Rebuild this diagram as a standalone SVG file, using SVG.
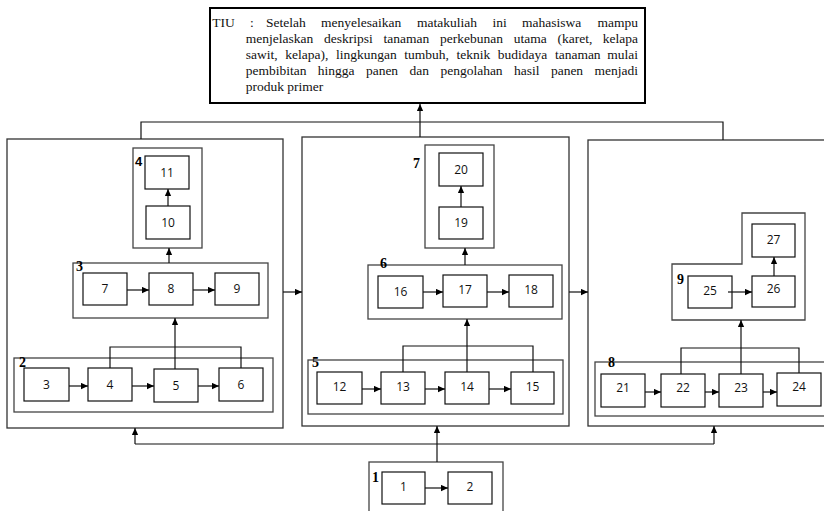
<svg xmlns="http://www.w3.org/2000/svg" width="824" height="511" viewBox="0 0 824 511">
<defs>
<marker id="ah" viewBox="0 0 10 10" refX="10" refY="5" markerWidth="7" markerHeight="7" markerUnits="userSpaceOnUse" orient="auto">
<path d="M0,0.5 L10,5 L0,9.5 z" fill="#000"/>
</marker>
<style>
.panel{fill:none;stroke:#333;stroke-width:1.3}
.grp{fill:none;stroke:#444;stroke-width:1.3}
.box{fill:#fff;stroke:#111;stroke-width:1.2}
.tiu{fill:#fff;stroke:#000;stroke-width:2}
.num{font-family:"Open Sans","DejaVu Sans",sans-serif;font-size:12px;text-anchor:middle;fill:#111}
.glab{font-family:"Liberation Serif","Times New Roman",serif;font-weight:bold;font-size:14px;fill:#000}
.glabs{font-family:"Liberation Sans",Arial,sans-serif;font-weight:bold;font-size:13px;fill:#000}
.txt{font-family:"Liberation Serif","Times New Roman",serif;font-size:13.5px;fill:#111}
.conn{fill:none;stroke:#111;stroke-width:1.2}
.arr{marker-end:url(#ah)}
</style>
</defs>
<rect width="824" height="511" fill="#fff"/>

<g id="tiu">
<rect class="tiu" x="210" y="8" width="435" height="95"/>
<text class="txt" y="27"><tspan x="212.3">TIU</tspan><tspan x="249.9">:</tspan><tspan x="266">Setelah</tspan><tspan x="321">menyelesaikan</tspan><tspan x="417">matakuliah</tspan><tspan x="492.5">ini</tspan><tspan x="522">mahasiswa</tspan></text>
<text class="txt" x="638" y="27" text-anchor="end">mampu</text>
<text class="txt" y="43"><tspan x="245.7">menjelaskan</tspan><tspan x="324">deskripsi</tspan><tspan x="383.5">tanaman</tspan><tspan x="440">perkebunan</tspan><tspan x="513.7">utama</tspan><tspan x="557.5">(karet,</tspan></text>
<text class="txt" x="638" y="43" text-anchor="end">kelapa</text>
<text class="txt" y="59"><tspan x="245.7">sawit,</tspan><tspan x="285.2">kelapa),</tspan><tspan x="335.9">lingkungan</tspan><tspan x="404.2">tumbuh,</tspan><tspan x="456.5">teknik</tspan><tspan x="497.8">budidaya</tspan><tspan x="554.9">tanaman</tspan></text>
<text class="txt" x="638" y="59" text-anchor="end">mulai</text>
<text class="txt" y="75"><tspan x="245.7">pembibitan</tspan><tspan x="317.8">hingga</tspan><tspan x="365.9">panen</tspan><tspan x="409.6">dan</tspan><tspan x="440.4">pengolahan</tspan><tspan x="514">hasil</tspan><tspan x="550.9">panen</tspan></text>
<text class="txt" x="638" y="75" text-anchor="end">menjadi</text>
<text class="txt" x="245.7" y="91">produk primer</text>
</g>

<g id="panel-left"><rect class="panel" x="7" y="139" width="276" height="289"/></g>
<g id="panel-mid"><rect class="panel" x="302" y="137" width="267" height="289"/></g>
<g id="panel-right"><rect class="panel" x="588" y="140" width="250" height="286"/></g>

<!-- left panel -->
<g id="g4"><rect class="grp" x="133" y="148" width="69" height="100"/><text class="glabs" x="135" y="166">4</text></g>
<g id="n11"><rect class="box" x="145" y="156" width="44" height="33"/><text class="num" x="167" y="177">11</text></g>
<g id="n10"><rect class="box" x="146" y="206" width="44" height="33"/><text class="num" x="168" y="227">10</text></g>
<g id="g3"><rect class="grp" x="73" y="263" width="195" height="55"/><text class="glab" x="76" y="271">3</text></g>
<g id="n7"><rect class="box" x="83" y="273" width="44" height="32"/><text class="num" x="105" y="293">7</text></g>
<g id="n8"><rect class="box" x="149" y="273" width="44" height="32"/><text class="num" x="171" y="293">8</text></g>
<g id="n9"><rect class="box" x="215" y="273" width="44" height="32"/><text class="num" x="237" y="293">9</text></g>
<g id="g2"><rect class="grp" x="14" y="358" width="259" height="54"/><text class="glab" x="19" y="367">2</text></g>
<g id="n3"><rect class="box" x="24" y="368" width="45" height="33"/><text class="num" x="46.5" y="389">3</text></g>
<g id="n4"><rect class="box" x="88" y="368" width="44" height="33"/><text class="num" x="110" y="389">4</text></g>
<g id="n5"><rect class="box" x="154" y="369" width="44" height="33"/><text class="num" x="176" y="390">5</text></g>
<g id="n6"><rect class="box" x="219" y="368" width="44" height="33"/><text class="num" x="241" y="389">6</text></g>

<!-- middle panel -->
<g id="g7"><rect class="grp" x="425" y="145" width="69" height="103"/><text class="glab" x="413" y="168">7</text></g>
<g id="n20"><rect class="box" x="439" y="153" width="44" height="33"/><text class="num" x="461" y="174">20</text></g>
<g id="n19"><rect class="box" x="439" y="207" width="44" height="32"/><text class="num" x="461" y="227">19</text></g>
<g id="g6"><rect class="grp" x="368" y="265" width="194" height="54"/><text class="glab" x="380" y="268">6</text></g>
<g id="n16"><rect class="box" x="378" y="276" width="45" height="32"/><text class="num" x="400.5" y="296">16</text></g>
<g id="n17"><rect class="box" x="443" y="275" width="44" height="32"/><text class="num" x="465" y="294">17</text></g>
<g id="n18"><rect class="box" x="509" y="275" width="44" height="32"/><text class="num" x="531" y="294">18</text></g>
<g id="g5"><rect class="grp" x="308" y="360" width="255" height="54"/><text class="glab" x="312" y="367">5</text></g>
<g id="n12"><rect class="box" x="317" y="372" width="45" height="32"/><text class="num" x="339.5" y="391">12</text></g>
<g id="n13"><rect class="box" x="381" y="372" width="44" height="32"/><text class="num" x="403" y="391">13</text></g>
<g id="n14"><rect class="box" x="445" y="372" width="44" height="32"/><text class="num" x="467" y="391">14</text></g>
<g id="n15"><rect class="box" x="511" y="372" width="43" height="32"/><text class="num" x="532.5" y="391">15</text></g>

<!-- right panel -->
<g id="g9"><path class="grp" d="M672,264 H742 V213 H805 V320 H672 Z"/><text class="glab" x="677" y="284">9</text></g>
<g id="n27"><rect class="box" x="752" y="224" width="43" height="33"/><text class="num" x="773.5" y="244">27</text></g>
<g id="n26"><rect class="box" x="752" y="276" width="43" height="31"/><text class="num" x="773.5" y="293">26</text></g>
<g id="n25"><rect class="box" x="688" y="276" width="44" height="32"/><text class="num" x="710" y="295">25</text></g>
<g id="g8"><rect class="grp" x="595" y="362" width="240" height="54"/><text class="glab" x="608" y="367">8</text></g>
<g id="n21"><rect class="box" x="601" y="374" width="44" height="33"/><text class="num" x="623" y="392">21</text></g>
<g id="n22"><rect class="box" x="661" y="374" width="44" height="33"/><text class="num" x="683" y="392">22</text></g>
<g id="n23"><rect class="box" x="719" y="374" width="44" height="33"/><text class="num" x="741" y="392">23</text></g>
<g id="n24"><rect class="box" x="777" y="373" width="44" height="33"/><text class="num" x="799" y="391">24</text></g>

<!-- bottom group 1 -->
<g id="g1"><rect class="grp" x="369" y="462" width="134" height="60"/><text class="glab" x="372" y="482">1</text></g>
<g id="n1"><rect class="box" x="382" y="472" width="43" height="32"/><text class="num" x="403.5" y="491">1</text></g>
<g id="n2"><rect class="box" x="448" y="472" width="44" height="32"/><text class="num" x="470" y="491">2</text></g>

<g id="connectors">
<path class="conn" d="M141,139 V122 H723 V140"/>
<path class="conn arr" d="M420,137 V104"/>
<path class="conn arr" d="M283,292 H302"/>
<path class="conn arr" d="M569,292 H588"/>
<path class="conn" d="M135,444 H714"/>
<path class="conn arr" d="M135,444 V428"/>
<path class="conn arr" d="M714,444 V426"/>
<path class="conn arr" d="M437,462 V426"/>
<path class="conn arr" d="M425,488 H448"/>
<!-- left -->
<path class="conn arr" d="M168,206 V189"/>
<path class="conn arr" d="M169,263 V248"/>
<path class="conn arr" d="M127,290 H149"/>
<path class="conn arr" d="M193,290 H215"/>
<path class="conn" d="M110,368 V347 H241 V368"/>
<path class="conn arr" d="M175,369 V318"/>
<path class="conn arr" d="M69,386 H88"/>
<path class="conn arr" d="M132,386 H154"/>
<path class="conn arr" d="M198,386 H219"/>
<!-- middle -->
<path class="conn arr" d="M461,207 V186"/>
<path class="conn arr" d="M465,265 V248"/>
<path class="conn arr" d="M423,292 H443"/>
<path class="conn arr" d="M487,292 H509"/>
<path class="conn" d="M403,372 V346 H533 V372"/>
<path class="conn arr" d="M467,372 V319"/>
<path class="conn arr" d="M362,389 H381"/>
<path class="conn arr" d="M425,389 H445"/>
<path class="conn arr" d="M489,389 H511"/>
<!-- right -->
<path class="conn arr" d="M728,292 H752"/>
<path class="conn arr" d="M774,276 V257"/>
<path class="conn arr" d="M741,374 V320"/>
<path class="conn" d="M681,374 V348 H799 V373"/>
<path class="conn arr" d="M645,392 H661"/>
<path class="conn arr" d="M705,392 H719"/>
<path class="conn arr" d="M763,392 H777"/>
</g>
</svg>
